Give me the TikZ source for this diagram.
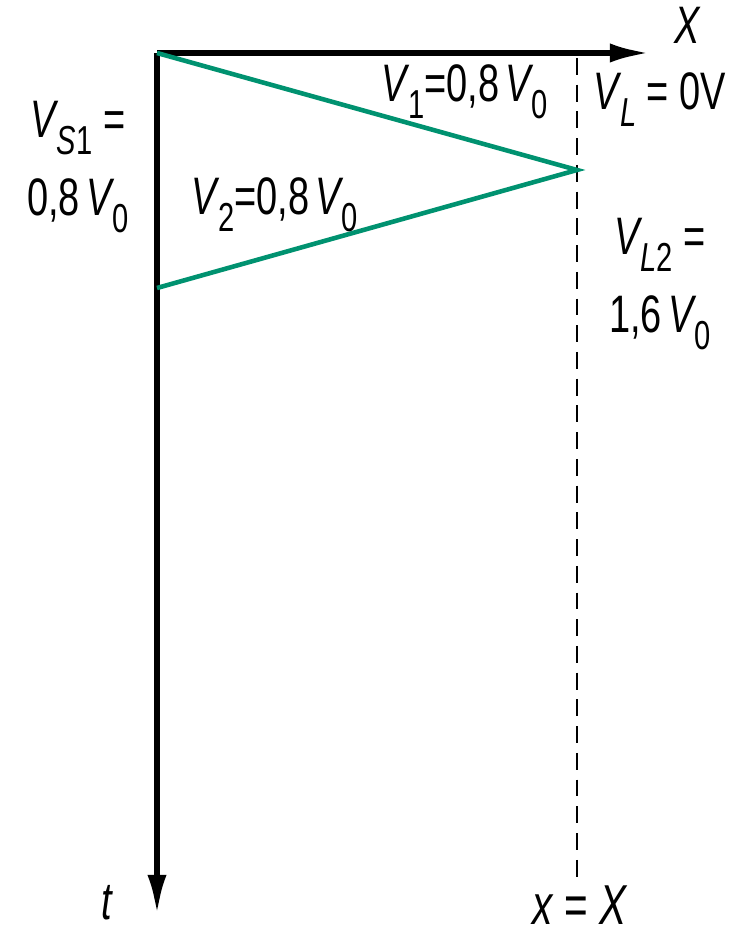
\documentclass[tikz,border=0pt]{standalone}
\usepackage{fontspec}
\setmainfont[FakeStretch=0.72]{Liberation Sans}
\usepackage{tikz}
\usetikzlibrary{arrows.meta}
\definecolor{wavegreen}{RGB}{0,146,112}
\newcommand{\vsub}[2]{\textit{#1}\kern-0.04em\raisebox{-0.32em}{\fontsize{11.5}{12}\selectfont #2}}

\begin{document}
\begin{tikzpicture}[x=0.01cm, y=-0.01cm, >={Latex[length=4mm,width=1.9mm]},
    every node/.style={font=\fontsize{15}{19}\selectfont, inner sep=0pt, align=center}]
            \useasboundingbox (0,0) rectangle (738,931);
            \coordinate (O) at (157,53);
            \coordinate (Xe) at (650,53);
            \coordinate (Te) at (157,915);
            \coordinate (Lt) at (577,58);
            \coordinate (Lb) at (577,880);
            \coordinate (R) at (577,170);
            \coordinate (S) at (157,288);
            
            % Achsen
            \draw[line width=1.6pt, ->] (O) -- (Xe);
            \draw[line width=1.6pt, ->] (O) -- (Te);
            \draw[line width=0.75pt, dash pattern=on 4.8pt off 2.8pt] (Lt) -- (Lb);
            
            % Wellen
            \draw[wavegreen, line width=1.3pt] (O) -- (R) -- (S);
            
            % Beschriftung
            \node (xl) at (688,25) {\textit{X}};
            \node (tl) at (107,903) {\textit{t}};
            \node[font=\fontsize{16}{19}\selectfont] (xx) at (580,905) {\textit{x} = \textit{X}};
            \node (v1) at (465,92) {\vsub{V}{1}=0,8\kern0.12em\vsub{V}{0}};
            \node (vl) at (660,100) {\vsub{V}{\textit{L}} = 0V};
            \node (vs1) at (78,167) {\vsub{V}{\textit{S}1} =\\[3pt] 0,8\kern0.12em\vsub{V}{0}};
            \node (v2) at (275,205) {\vsub{V}{2}=0,8\kern0.12em\vsub{V}{0}};
            \node (vl2) at (660,284) {\vsub{V}{\textit{L}2} =\\[3pt] 1,6\kern0.12em\vsub{V}{0}};
        \end{tikzpicture}
\end{document}
